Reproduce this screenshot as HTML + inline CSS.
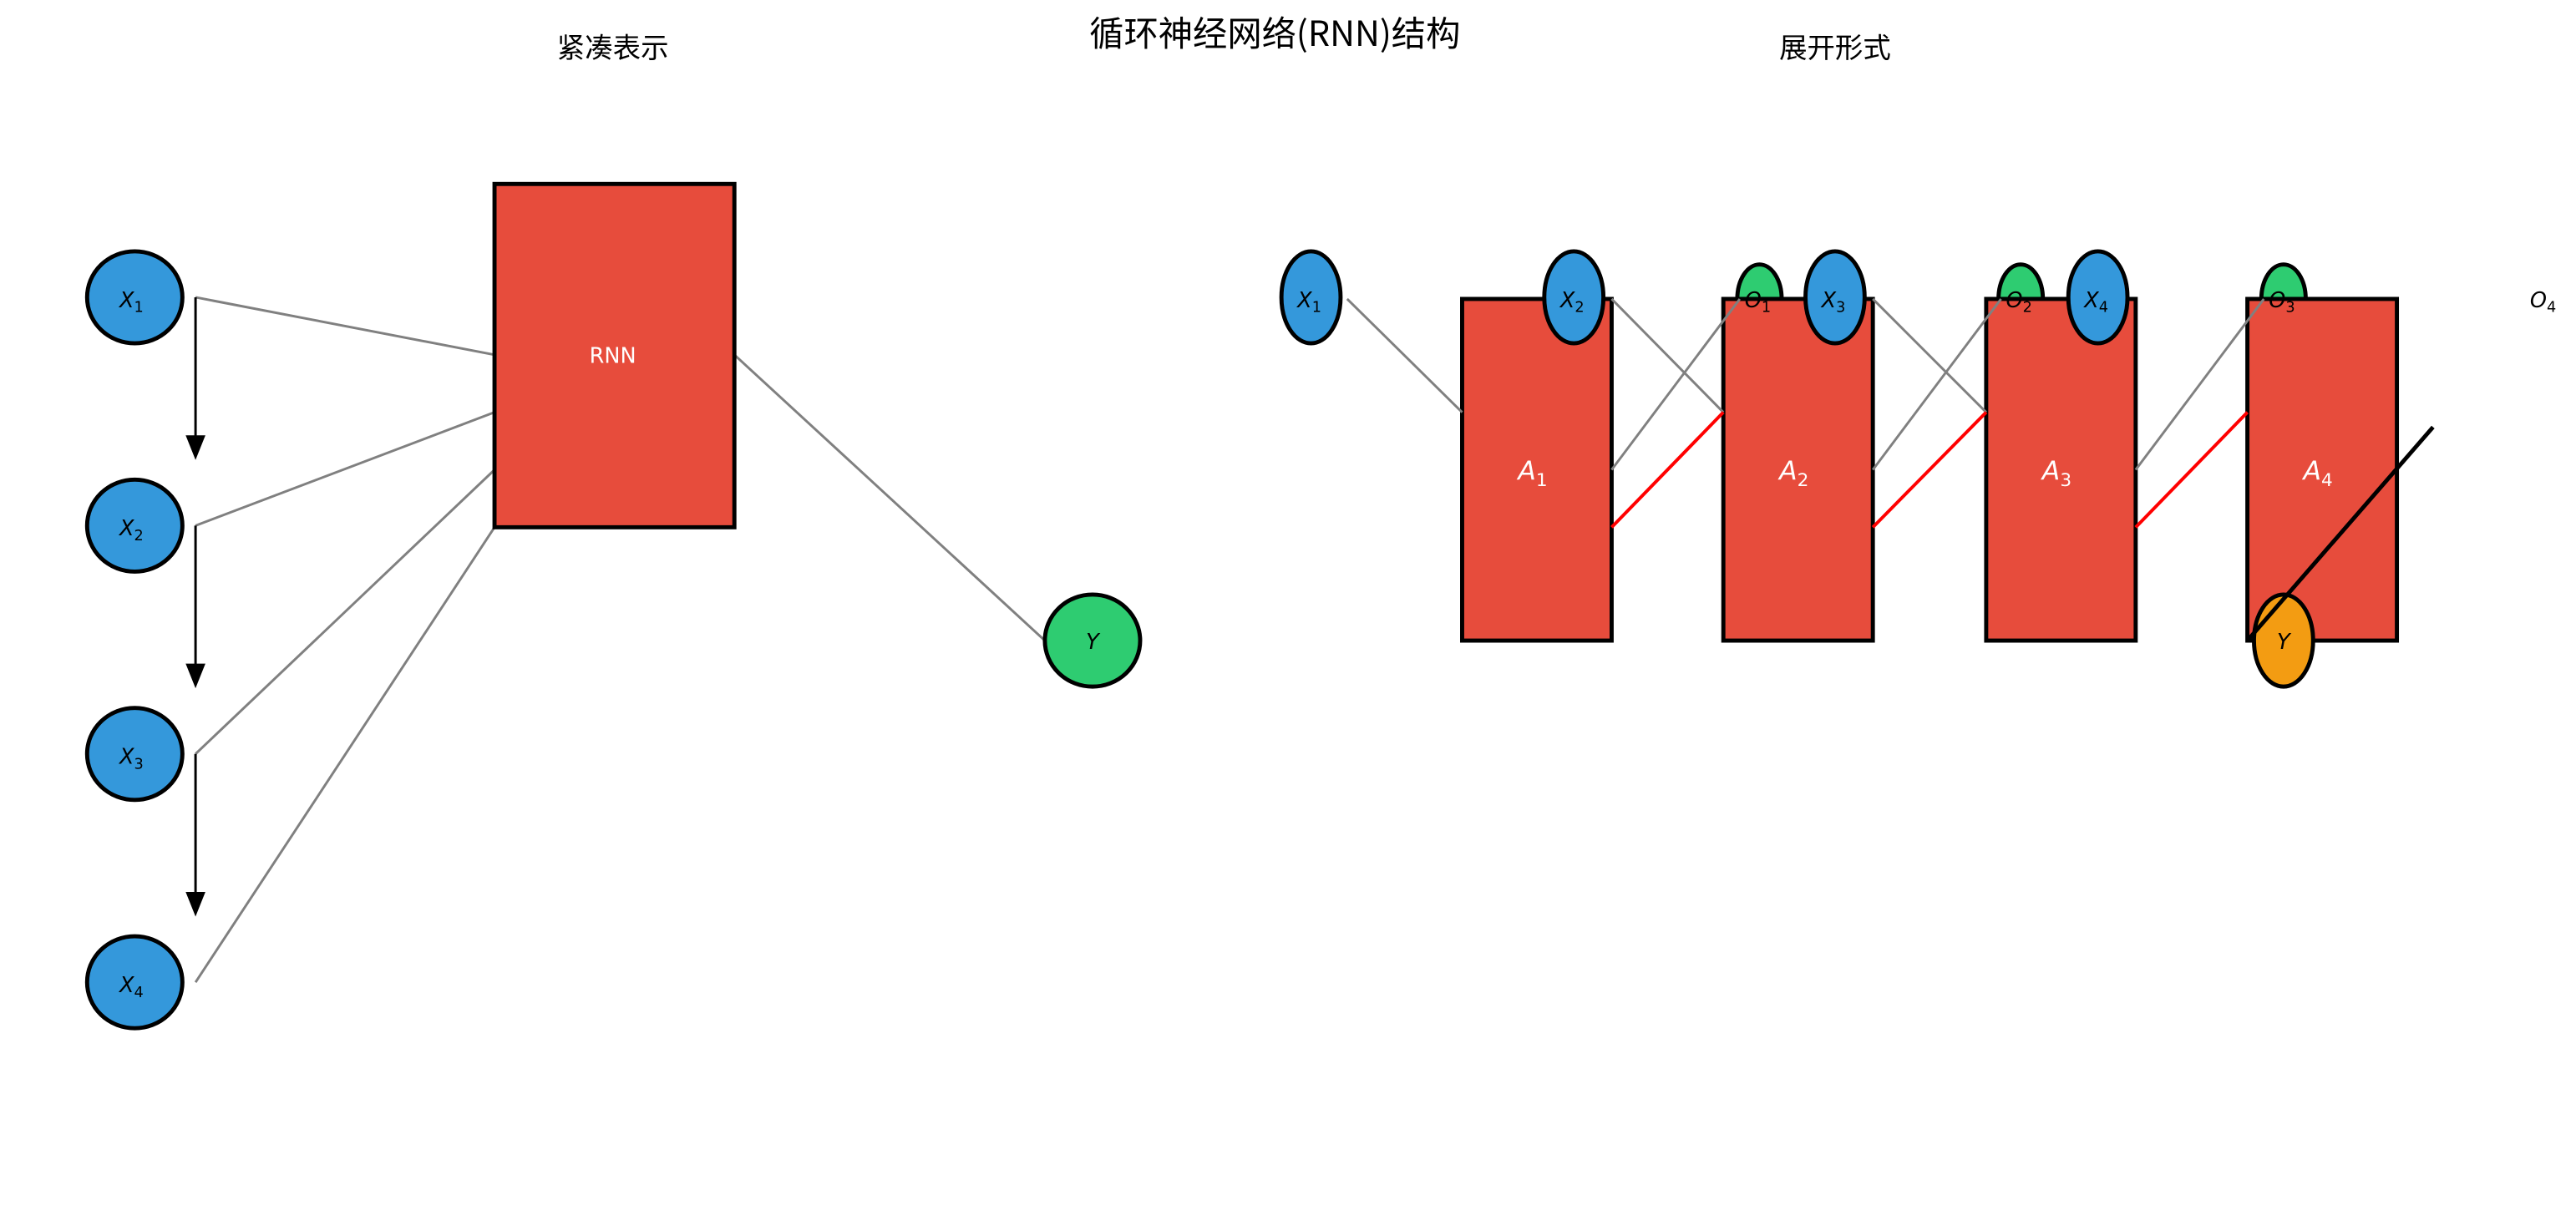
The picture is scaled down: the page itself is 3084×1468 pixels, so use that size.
<!DOCTYPE html>
<html><head><meta charset="utf-8"><style>
html,body{margin:0;padding:0;background:#fff;}
svg{display:block;}
text{font-family:"DejaVu Sans","Liberation Sans","Noto Sans CJK SC",sans-serif;}
.cjk{font-family:"Noto Sans CJK SC","WenQuanYi Zen Hei",sans-serif;}
</style></head><body>
<svg width="3084" height="1468" viewBox="0 0 1568 746.4" xmlns="http://www.w3.org/2000/svg">
<rect width="1568" height="746.4" fill="#fff"/>
<text class="cjk" x="776" y="28" font-size="21" text-anchor="middle">循环神经网络(RNN)结构</text>
<text class="cjk" x="373" y="35" font-size="17" text-anchor="middle">紧凑表示</text>
<text class="cjk" x="1117" y="35" font-size="17" text-anchor="middle">展开形式</text>

<!-- left panel -->
<g stroke="#808080" stroke-width="1.5">
<line x1="119" y1="181" x2="301" y2="216"/>
<line x1="119" y1="320" x2="301" y2="251"/>
<line x1="119" y1="459" x2="301" y2="286"/>
<line x1="119" y1="598" x2="301" y2="321"/>
<line x1="447" y1="216" x2="636" y2="390"/>
</g>
<g stroke="#000" stroke-width="1.5">
<line x1="119" y1="181" x2="119" y2="266"/>
<line x1="119" y1="320" x2="119" y2="405"/>
<line x1="119" y1="459" x2="119" y2="544"/>
</g>
<g fill="#000">
<polygon points="113,265 125,265 119,280"/>
<polygon points="113,404 125,404 119,419"/>
<polygon points="113,543 125,543 119,558"/>
</g>
<g fill="#3498db" stroke="#000" stroke-width="2.5">
<ellipse cx="82" cy="181" rx="29" ry="28"/>
<ellipse cx="82" cy="320" rx="29" ry="28"/>
<ellipse cx="82" cy="459" rx="29" ry="28"/>
<ellipse cx="82" cy="598" rx="29" ry="28"/>
</g>
<g font-size="13" font-style="italic" text-anchor="middle">
<text x="80" y="187">X<tspan font-size="9" dy="3" font-style="normal">1</tspan></text>
<text x="80" y="326">X<tspan font-size="9" dy="3" font-style="normal">2</tspan></text>
<text x="80" y="465">X<tspan font-size="9" dy="3" font-style="normal">3</tspan></text>
<text x="80" y="604">X<tspan font-size="9" dy="3" font-style="normal">4</tspan></text>
</g>
<rect x="301" y="112" width="146" height="209" fill="#e74c3c" stroke="#000" stroke-width="2.5"/>
<text x="373" y="221" font-size="13" fill="#fff" text-anchor="middle" font-family="DejaVu Sans Mono,monospace">RNN</text>
<ellipse cx="665" cy="390" rx="29" ry="28" fill="#2ecc71" stroke="#000" stroke-width="2.5"/>
<text x="665" y="395" font-size="13" font-style="italic" text-anchor="middle">Y</text>

<!-- right panel -->
<g fill="#2ecc71" stroke="#000" stroke-width="2.5">
<ellipse cx="1071" cy="182" rx="13.5" ry="21"/>
<ellipse cx="1230" cy="182" rx="13.5" ry="21"/>
<ellipse cx="1390" cy="182" rx="13.5" ry="21"/>
</g>
<g fill="#e74c3c" stroke="#000" stroke-width="2.5">
<rect x="890" y="182" width="91" height="208"/>
<rect x="1049" y="182" width="91" height="208"/>
<rect x="1209" y="182" width="91" height="208"/>
<rect x="1368" y="182" width="91" height="208"/>
</g>
<g stroke="#808080" stroke-width="1.5">
<line x1="820" y1="182" x2="890" y2="251"/>
<line x1="981" y1="182" x2="1049" y2="251"/>
<line x1="1140" y1="182" x2="1209" y2="251"/>
<line x1="981" y1="286" x2="1059" y2="182"/>
<line x1="1140" y1="286" x2="1218" y2="182"/>
<line x1="1300" y1="286" x2="1378" y2="182"/>
</g>
<g stroke="#ff0000" stroke-width="2">
<line x1="981" y1="321" x2="1049" y2="251"/>
<line x1="1140" y1="321" x2="1209" y2="251"/>
<line x1="1300" y1="321" x2="1368" y2="251"/>
</g>
<g fill="#3498db" stroke="#000" stroke-width="2.5">
<ellipse cx="798" cy="181" rx="18" ry="28"/>
<ellipse cx="958" cy="181" rx="18" ry="28"/>
<ellipse cx="1117" cy="181" rx="18" ry="28"/>
<ellipse cx="1277" cy="181" rx="18" ry="28"/>
</g>
<g font-size="13" font-style="italic" text-anchor="middle">
<text x="797" y="187">X<tspan font-size="9" dy="3" font-style="normal">1</tspan></text>
<text x="957" y="187">X<tspan font-size="9" dy="3" font-style="normal">2</tspan></text>
<text x="1116" y="187">X<tspan font-size="9" dy="3" font-style="normal">3</tspan></text>
<text x="1276" y="187">X<tspan font-size="9" dy="3" font-style="normal">4</tspan></text>
<text x="1070" y="187">O<tspan font-size="9" dy="3" font-style="normal">1</tspan></text>
<text x="1229" y="187">O<tspan font-size="9" dy="3" font-style="normal">2</tspan></text>
<text x="1389" y="187">O<tspan font-size="9" dy="3" font-style="normal">3</tspan></text>
<text x="1548" y="187">O<tspan font-size="9" dy="3" font-style="normal">4</tspan></text>
</g>
<g font-size="16" font-style="italic" text-anchor="middle" fill="#fff">
<text x="933" y="292">A<tspan font-size="11" dy="4" font-style="normal">1</tspan></text>
<text x="1092" y="292">A<tspan font-size="11" dy="4" font-style="normal">2</tspan></text>
<text x="1252" y="292">A<tspan font-size="11" dy="4" font-style="normal">3</tspan></text>
<text x="1411" y="292">A<tspan font-size="11" dy="4" font-style="normal">4</tspan></text>
</g>
<ellipse cx="1390" cy="390" rx="18" ry="28" fill="#f39c12" stroke="#000" stroke-width="2.5"/>
<text x="1390" y="395" font-size="13" font-style="italic" text-anchor="middle">Y</text>
<line x1="1368" y1="390" x2="1481" y2="260" stroke="#000" stroke-width="2.5"/>
</svg>
</body></html>
